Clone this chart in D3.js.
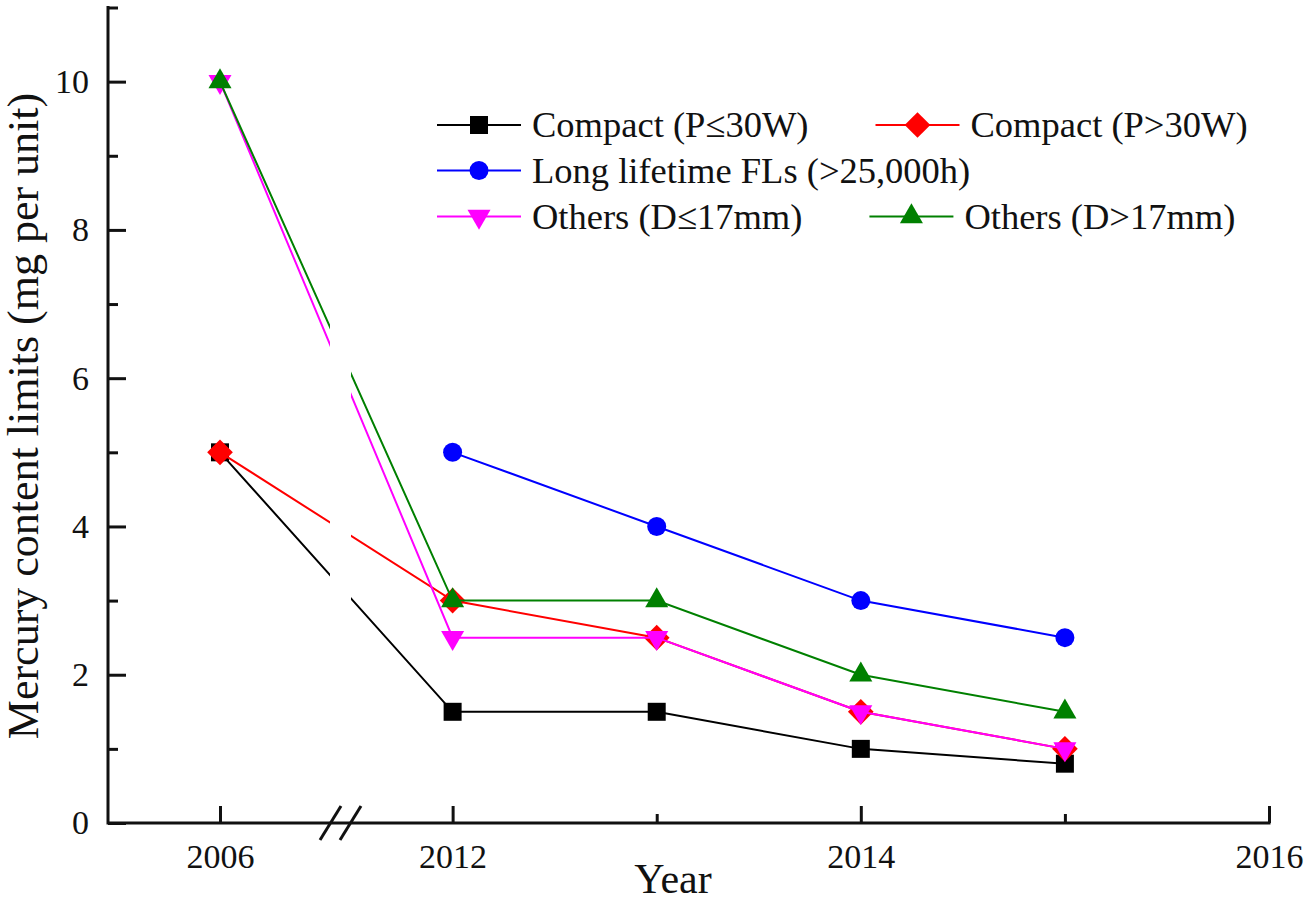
<!DOCTYPE html>
<html>
<head>
<meta charset="utf-8">
<script src="https://cdn.jsdelivr.net/npm/d3@7"></script>
<style>
  body { margin: 0; background: #fff; }
  svg { font-family: "Liberation Serif", "Times New Roman", serif; }
  .axis text { font-family: "Liberation Serif", "Times New Roman", serif; font-size: 34px; fill: #111; }
  .axis line { stroke: #111; stroke-width: 3px; }
</style>
</head>
<body>
<svg width="1312" height="901"></svg>
<script>
// Data
const years = [2006, 2012, 2013, 2014, 2015];
const compactLow = [5, 1.5, 1.5, 1.0, 0.8];
const compactHigh = [5, 3, 2.5, 1.5, 1.0];
const longLife = [null, 5, 4, 3, 2.5];
const othersThin = [10, 2.5, 2.5, 1.5, 1.0];
const othersThick = [10, 3, 3, 2, 1.5];

const seriesNames = [
    "Compact (P\u226430W)",
    "Compact (P>30W)",
    "Long lifetime FLs (>25,000h)",
    "Others (D\u226417mm)",
    "Others (D>17mm)"
];
const seriesValues = [compactLow, compactHigh, longLife, othersThin, othersThick];
const seriesColors = ["#000000", "#ff0000", "#0000ff", "#ff00ff", "#008000"];

const xMajorLeft = [2006];
const xMajorRight = [2012, 2014, 2016];
const xMinorRight = [2013, 2015];
const yMajor = [0, 2, 4, 6, 8, 10];
const yMinor = [1, 3, 5, 7, 9, 11];

const svg = d3.select("svg");

const x0 = 108, x1 = 1269, xBreak = 342;
const yBottom = 823, yTop = 7.5;

// Broken x axis: two linear pieces
const xLeft = d3.scaleLinear().domain([2005.451, 2006.598]).range([x0, xBreak]);
const xRight = d3.scaleLinear().domain([2011.458, 2016]).range([xBreak, x1]);
const x = yr => yr < 2010 ? xLeft(yr) : xRight(yr);

const y = d3.scaleLinear().domain([0, 11]).range([yBottom, yTop]);

// Axes
function styleAxis(g) {
    g.select(".domain").remove();
}

svg.append("g").attr("class", "axis")
    .attr("transform", `translate(0,${yBottom})`)
    .call(d3.axisBottom(xLeft).tickValues(xMajorLeft).tickSize(-17).tickPadding(21).tickFormat(d3.format("d")))
    .call(styleAxis);

svg.append("g").attr("class", "axis")
    .attr("transform", `translate(0,${yBottom})`)
    .call(d3.axisBottom(xRight).tickValues(xMajorRight).tickSize(-17).tickPadding(21).tickFormat(d3.format("d")))
    .call(styleAxis);

svg.append("g").attr("class", "axis")
    .attr("transform", `translate(0,${yBottom})`)
    .call(d3.axisBottom(xRight).tickValues(xMinorRight).tickSize(-9).tickFormat(""))
    .call(styleAxis);

svg.append("g").attr("class", "axis")
    .attr("transform", `translate(${x0},0)`)
    .call(d3.axisLeft(y).tickValues(yMajor).tickSize(-18).tickPadding(19))
    .call(styleAxis);

svg.append("g").attr("class", "axis")
    .attr("transform", `translate(${x0},0)`)
    .call(d3.axisLeft(y).tickValues(yMinor).tickSize(-10).tickFormat(""))
    .call(styleAxis);

// Axis lines
svg.append("line")
    .attr("x1", x0).attr("x2", x0)
    .attr("y1", yBottom + 1.5).attr("y2", 6)
    .attr("stroke", "#111").attr("stroke-width", 3);
svg.append("line")
    .attr("x1", x0).attr("x2", x1 + 1.5)
    .attr("y1", yBottom).attr("y2", yBottom)
    .attr("stroke", "#111").attr("stroke-width", 3);

// Break marks
[0, 20].forEach(off => {
    svg.append("line")
        .attr("x1", 320 + off).attr("y1", yBottom + 17)
        .attr("x2", 341 + off).attr("y2", yBottom - 17)
        .attr("stroke", "#111").attr("stroke-width", 3);
});

// Clip to cut the lines at the break
const clip = svg.append("defs").append("clipPath").attr("id", "gap");
clip.append("rect").attr("x", 0).attr("y", 0).attr("width", 330).attr("height", 901);
clip.append("rect").attr("x", 351).attr("y", 0).attr("width", 1312 - 351).attr("height", 901);

const line = d3.line()
    .defined(d => d.v != null)
    .x(d => x(d.yr))
    .y(d => y(d.v));

const symbols = [
    { type: d3.symbolSquare, size: 324, rot: 0 },
    { type: d3.symbolSquare, size: 330, rot: 45 },
    { type: d3.symbolCircle, size: 283, rot: 0 },
    { type: d3.symbolTriangle, size: 230, rot: 180 },
    { type: d3.symbolTriangle, size: 230, rot: 0 }
];

seriesValues.forEach((vals, i) => {
    const pts = years.map((yr, j) => ({ yr: yr, v: vals[j] }));
    const g = svg.append("g");
    g.append("path")
        .datum(pts)
        .attr("clip-path", "url(#gap)")
        .attr("fill", "none")
        .attr("stroke", seriesColors[i])
        .attr("stroke-width", 2)
        .attr("d", line);
    g.selectAll("path.mark")
        .data(pts.filter(d => d.v != null))
        .enter().append("path")
        .attr("class", "mark")
        .attr("transform", d => `translate(${x(d.yr)},${y(d.v)}) rotate(${symbols[i].rot})`)
        .attr("d", d3.symbol().type(symbols[i].type).size(symbols[i].size))
        .attr("fill", seriesColors[i]);
});

// Legend
const legendRows = [[0, 1], [2], [3, 4]];
const rowY = [125, 170.5, 216.5];
legendRows.forEach((row, r) => {
    let lx = 437;
    row.forEach(i => {
        const g = svg.append("g").attr("transform", `translate(${lx},${rowY[r]})`);
        g.append("line")
            .attr("x1", 0).attr("x2", 84)
            .attr("stroke", seriesColors[i]).attr("stroke-width", 2);
        g.append("path")
            .attr("transform", `translate(42,0) rotate(${symbols[i].rot})`)
            .attr("d", d3.symbol().type(symbols[i].type).size(symbols[i].size))
            .attr("fill", seriesColors[i]);
        const t = g.append("text")
            .attr("x", 95).attr("y", 12)
            .attr("font-size", 36.5)
            .attr("fill", "#111")
            .text(seriesNames[i]);
        lx += 95 + t.node().getComputedTextLength() + 67;
    });
});

// Axis titles
svg.append("text")
    .attr("x", 673).attr("y", 893)
    .attr("text-anchor", "middle")
    .attr("font-size", 42)
    .attr("fill", "#111")
    .text("Year");

svg.append("text")
    .attr("transform", "translate(38,416) rotate(-90)")
    .attr("text-anchor", "middle")
    .attr("font-size", 44)
    .attr("fill", "#111")
    .text("Mercury content limits (mg per unit)");
</script>
</body>
</html>
